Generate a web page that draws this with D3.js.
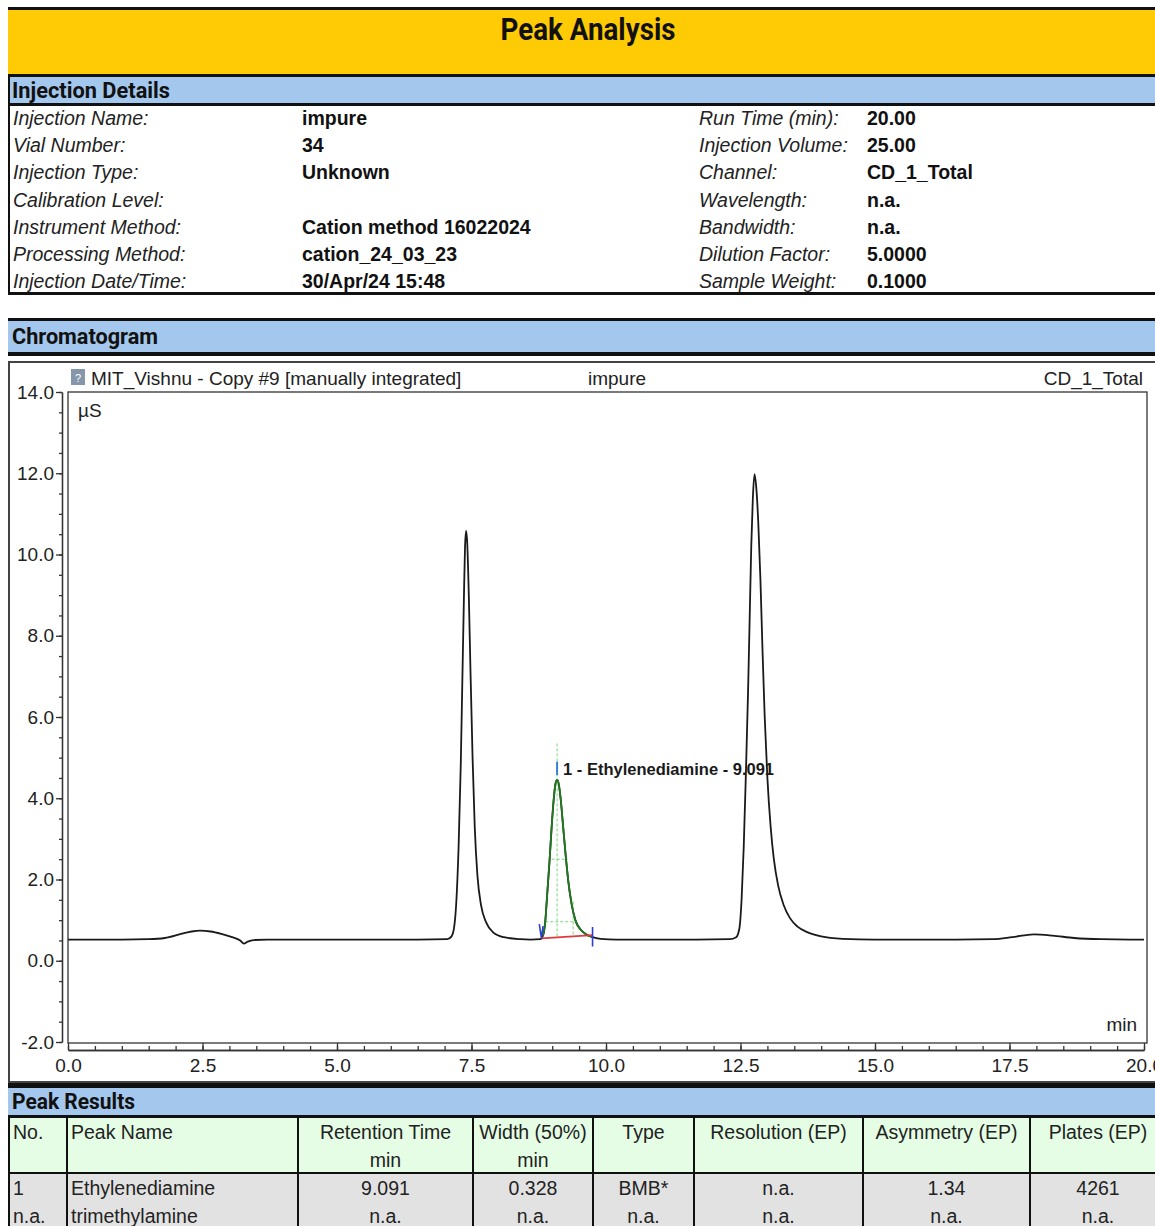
<!DOCTYPE html>
<html>
<head>
<meta charset="utf-8">
<script src="https://cdn.jsdelivr.net/npm/d3@7"></script>
<style>
  body { margin: 0; background: #fff; }
  svg { display: block; font-family: "Liberation Sans", Arial, sans-serif; }
  .band-title { font-family: "Liberation Sans Narrow", "Roboto", sans-serif; font-weight: bold; fill: #111; }
</style>
</head>
<body>
<div id="chart"></div>
<script>
var detailLabelsLeft = ['Injection Name:', 'Vial Number:', 'Injection Type:', 'Calibration Level:',
  'Instrument Method:', 'Processing Method:', 'Injection Date/Time:'];
var detailValuesLeft = ['impure', '34', 'Unknown', '', 'Cation method 16022024', 'cation_24_03_23', '30/Apr/24 15:48'];
var detailLabelsRight = ['Run Time (min):', 'Injection Volume:', 'Channel:', 'Wavelength:',
  'Bandwidth:', 'Dilution Factor:', 'Sample Weight:'];
var detailValuesRight = ['20.00', '25.00', 'CD_1_Total', 'n.a.', 'n.a.', '5.0000', '0.1000'];

// chromatogram trace (min, µS)
var traceTime = [0.00, 0.50, 1.00, 1.50, 1.80, 2.10, 2.30, 2.45, 2.65, 2.85, 3.05, 3.20, 3.27, 3.34, 3.45, 3.70,
  5.00, 6.50, 7.05, 7.13, 7.18, 7.22, 7.26, 7.30, 7.33, 7.36, 7.38, 7.40, 7.42, 7.45, 7.48, 7.52, 7.56, 7.61,
  7.68, 7.77, 7.90, 8.10, 8.40, 8.60, 8.78, 8.83, 8.87, 8.90, 8.95, 8.99, 9.03, 9.06, 9.09, 9.12, 9.16, 9.20,
  9.25, 9.30, 9.36, 9.43, 9.52, 9.62, 9.75, 9.90, 10.20, 11.50, 12.30, 12.42, 12.48, 12.52, 12.56, 12.60, 12.64,
  12.67, 12.70, 12.73, 12.76, 12.79, 12.83, 12.87, 12.91, 12.95, 13.00, 13.06, 13.12, 13.20, 13.30, 13.42,
  13.56, 13.75, 14.00, 14.40, 15.00, 16.50, 17.20, 17.55, 17.95, 18.30, 18.70, 19.20, 20.00];
var traceSignal = [0.52, 0.52, 0.52, 0.53, 0.56, 0.66, 0.72, 0.74, 0.72, 0.66, 0.58, 0.50, 0.42, 0.47, 0.51, 0.52,
  0.52, 0.52, 0.53, 0.60, 0.85, 1.50, 2.80, 4.80, 6.90, 9.00, 10.20, 10.58, 10.30, 9.00, 7.20, 5.00, 3.30, 2.10,
  1.35, 0.95, 0.70, 0.58, 0.53, 0.52, 0.53, 0.62, 0.95, 1.50, 2.45, 3.30, 4.00, 4.35, 4.45, 4.36, 3.95, 3.35,
  2.60, 1.95, 1.40, 1.00, 0.78, 0.66, 0.58, 0.54, 0.52, 0.52, 0.53, 0.58, 0.80, 1.50, 2.80, 4.60, 6.60,
  8.40, 10.20, 11.40, 11.98, 11.70, 10.80, 9.40, 7.60, 6.00, 4.50, 3.30, 2.50, 1.85, 1.38, 1.05,
  0.84, 0.70, 0.60, 0.54, 0.52, 0.52, 0.53, 0.58, 0.65, 0.62, 0.56, 0.53, 0.52];

var yTicks = [-2, 0, 2, 4, 6, 8, 10, 12, 14];
var xTicks = [0, 2.5, 5, 7.5, 10, 12.5, 15, 17.5, 20];

// integrated peak: start, end, apex, baseline ends, width markers
var peakLabel = '1 - Ethylenediamine - 9.091';
var peakStartEnd = [8.80, 9.75];
var peakBaseline = [0.55, 0.63];
var peakApex = [9.091, 4.45];
var peakHalfWidth = [8.99, 9.29, 2.50];
var peakTenPct = [8.87, 9.39, 0.96];

var resultHeads = ['No.', 'Peak Name', 'Retention Time', 'Width (50%)', 'Type', 'Resolution (EP)', 'Asymmetry (EP)', 'Plates (EP)'];
var resultUnits = ['', '', 'min', 'min', '', '', '', ''];
var resultRow1 = ['1', 'Ethylenediamine', '9.091', '0.328', 'BMB*', 'n.a.', '1.34', '4261'];
var resultRow2 = ['n.a.', 'trimethylamine', 'n.a.', 'n.a.', 'n.a.', 'n.a.', 'n.a.', 'n.a.'];

var width = 1155, height = 1226;
var svg = d3.select('#chart').append('svg')
    .attr('width', width)
    .attr('height', height);

function hline(y0, w) {
  svg.append('rect').attr('x', 8).attr('y', y0).attr('width', width).attr('height', w).attr('fill', '#111');
}
function band(y0, h, label, tl) {
  svg.append('rect').attr('x', 8).attr('y', y0).attr('width', width).attr('height', h).attr('fill', '#a4c8ed');
  svg.append('text').attr('class', 'band-title')
      .attr('x', 12).attr('y', y0 + h / 2).attr('dy', '0.36em')
      .style('font-size', '22px')
      .attr('textLength', tl).attr('lengthAdjust', 'spacingAndGlyphs')
      .text(label);
}

// title
hline(7, 3);
svg.append('rect').attr('x', 8).attr('y', 10).attr('width', width).attr('height', 64).attr('fill', '#ffcb05');
svg.append('text').attr('class', 'band-title')
    .attr('x', 588).attr('y', 29).attr('dy', '0.36em')
    .attr('text-anchor', 'middle')
    .style('font-size', '31px')
    .attr('textLength', 175).attr('lengthAdjust', 'spacingAndGlyphs')
    .text('Peak Analysis');

// injection details
hline(74, 3);
band(77, 26, 'Injection Details', 158);
hline(103, 3);
var rowY = d3.scaleLinear().domain([0, 6]).range([118, 281]);
function detailCol(list, x0, bold) {
  svg.append('g').selectAll('text').data(list).enter().append('text')
      .attr('x', x0).attr('y', function(d, i) { return rowY(i); })
      .attr('dy', '0.36em')
      .style('font-size', '19.5px')
      .style('font-style', bold ? 'normal' : 'italic')
      .style('font-weight', bold ? 'bold' : 'normal')
      .attr('fill', bold ? '#111' : '#222')
      .text(function(d) { return d; });
}
detailCol(detailLabelsLeft, 13, false);
detailCol(detailValuesLeft, 302, true);
detailCol(detailLabelsRight, 699, false);
detailCol(detailValuesRight, 867, true);
svg.append('rect').attr('x', 8).attr('y', 74).attr('width', 2).attr('height', 221).attr('fill', '#111');
hline(292, 3);

// chromatogram
hline(318, 3);
band(321, 31, 'Chromatogram', 146);
hline(352, 4);
svg.append('rect').attr('x', 9).attr('y', 362).attr('width', width).attr('height', 720)
    .attr('fill', 'none').attr('stroke', '#444').attr('stroke-width', 2);

var x = d3.scaleLinear().domain([0, 20]).range([68, 1144]);
var y = d3.scaleLinear().domain([-2, 14]).range([1042, 392]);

svg.append('rect').attr('x', 68).attr('y', 392).attr('width', 1079).attr('height', 651)
    .attr('fill', 'none').attr('stroke', '#333').attr('stroke-width', 1.3);

// title row
svg.append('rect').attr('x', 71).attr('y', 369).attr('width', 14).attr('height', 16).attr('fill', '#8797ab');
svg.append('text').attr('x', 78).attr('y', 382).attr('text-anchor', 'middle')
    .style('font-size', '11px').attr('fill', '#fff').text('?');
var titleRow = svg.append('g').style('font-size', '19px').attr('fill', '#222');
titleRow.append('text').attr('x', 91).attr('y', 378).attr('dy', '0.36em').text('MIT_Vishnu - Copy #9 [manually integrated]');
titleRow.append('text').attr('x', 588).attr('y', 378).attr('dy', '0.36em').text(detailValuesLeft[0]);
titleRow.append('text').attr('x', 1143).attr('y', 378).attr('dy', '0.36em').attr('text-anchor', 'end').text(detailValuesRight[2]);
titleRow.append('text').attr('x', 78).attr('y', 410).attr('dy', '0.36em').text('µS');
titleRow.append('text').attr('x', 1137).attr('y', 1024).attr('dy', '0.36em').attr('text-anchor', 'end').text('min');

// axes
var fmt = function(d) { return d.toFixed(1); };
svg.append('g').attr('transform', 'translate(62,0)')
    .call(d3.axisLeft(y).tickValues(yTicks).tickFormat(fmt).tickSize(6).tickSizeOuter(0).tickPadding(2));
svg.append('g').attr('transform', 'translate(62,0)')
    .call(d3.axisLeft(y).tickValues(y.ticks(32)).tickFormat('').tickSize(3).tickSizeOuter(0));
svg.append('g').attr('transform', 'translate(0,1050)')
    .call(d3.axisBottom(x).tickValues(xTicks).tickFormat(fmt).tickSize(-7).tickSizeOuter(0).tickPadding(9));
svg.append('g').attr('transform', 'translate(0,1050)')
    .call(d3.axisBottom(x).tickValues(x.ticks(40)).tickFormat('').tickSize(-4).tickSizeOuter(0));
svg.selectAll('.domain, .tick line').attr('stroke', '#333').attr('stroke-width', 1.3);
svg.selectAll('.tick text').style('font-size', '19px').style('font-family', '"Liberation Sans", Arial, sans-serif').attr('fill', '#222');

// trace
var trace = traceTime.map(function(t, i) { return { t: t, v: traceSignal[i] }; });
var line = d3.line()
    .x(function(d) { return x(d.t); })
    .y(function(d) { return y(d.v); })
    .curve(d3.curveMonotoneX);

svg.append('path')
    .datum(trace)
    .attr('d', line)
    .attr('fill', 'none')
    .attr('stroke', '#1a1a1a')
    .attr('stroke-width', 1.8);

// integrated peak marks
var dash = '3,2';
svg.append('line')
    .attr('x1', x(peakApex[0])).attr('x2', x(peakApex[0]))
    .attr('y1', y(peakApex[1] + 0.9)).attr('y2', y(peakBaseline[0] + 0.05))
    .attr('stroke', '#7bd67b').attr('stroke-width', 1).attr('stroke-dasharray', dash);
[peakHalfWidth, peakTenPct].forEach(function(m) {
  svg.append('line')
      .attr('x1', x(m[0])).attr('x2', x(m[1]))
      .attr('y1', y(m[2])).attr('y2', y(m[2]))
      .attr('stroke', '#7bd67b').attr('stroke-width', 1).attr('stroke-dasharray', dash);
});
svg.append('line')
    .attr('x1', x(peakTenPct[1])).attr('x2', x(peakTenPct[1]))
    .attr('y1', y(peakTenPct[2] + 0.5)).attr('y2', y(peakBaseline[1]))
    .attr('stroke', '#7bd67b').attr('stroke-width', 1).attr('stroke-dasharray', dash);

svg.append('path')
    .datum(trace.filter(function(d) { return d.t >= peakStartEnd[0] && d.t <= peakStartEnd[1]; }))
    .attr('d', line)
    .attr('fill', 'none')
    .attr('stroke', '#1f7a1f')
    .attr('stroke-width', 1.8);

svg.append('line')
    .attr('x1', x(peakStartEnd[0])).attr('x2', x(peakStartEnd[1]))
    .attr('y1', y(peakBaseline[0])).attr('y2', y(peakBaseline[1]))
    .attr('stroke', '#e0393e').attr('stroke-width', 1.6);

svg.append('path')
    .attr('d', 'M' + x(peakStartEnd[0] - 0.04) + ',' + y(peakBaseline[0] + 0.35) +
      'L' + x(peakStartEnd[0]) + ',' + y(peakBaseline[0]) +
      'L' + x(peakStartEnd[0] + 0.03) + ',' + y(peakBaseline[0] + 0.3))
    .attr('fill', 'none').attr('stroke', '#2b3fd0').attr('stroke-width', 1.6);
svg.append('line')
    .attr('x1', x(peakStartEnd[1])).attr('x2', x(peakStartEnd[1]))
    .attr('y1', y(peakBaseline[1] + 0.2)).attr('y2', y(peakBaseline[1] - 0.28))
    .attr('stroke', '#2b3fd0').attr('stroke-width', 1.6);
svg.append('line')
    .attr('x1', x(peakApex[0])).attr('x2', x(peakApex[0]))
    .attr('y1', y(peakApex[1] + 0.45)).attr('y2', y(peakApex[1] + 0.12))
    .attr('stroke', '#3a7fd0').attr('stroke-width', 2);

svg.append('text')
    .attr('x', x(peakApex[0]) + 6).attr('y', y(peakApex[1] + 0.27)).attr('dy', '0.36em')
    .style('font-size', '16.5px').style('font-weight', 'bold').attr('fill', '#1a1a1a')
    .text(peakLabel);

// peak results
hline(1083, 5);
band(1088, 27, 'Peak Results', 123);
hline(1115, 3);

var colEdges = [8, 66, 297, 472, 592, 693, 862, 1029, 1165];
var headTop = 1118, headBottom = 1172, rowBottom = 1230;
svg.append('rect').attr('x', 8).attr('y', headTop).attr('width', width).attr('height', headBottom - headTop).attr('fill', '#e4fde4');
svg.append('rect').attr('x', 8).attr('y', headBottom).attr('width', width).attr('height', rowBottom - headBottom).attr('fill', '#e2e2e2');
svg.append('rect').attr('x', 8).attr('y', headBottom).attr('width', width).attr('height', 2).attr('fill', '#111');
svg.append('g').selectAll('rect').data(colEdges.slice(0, -1)).enter().append('rect')
    .attr('x', function(d) { return d; }).attr('y', headTop)
    .attr('width', 2).attr('height', rowBottom - headTop).attr('fill', '#111');

function cellX(i) {
  return i < 2 ? colEdges[i] + 5 : (colEdges[i] + colEdges[i + 1]) / 2 + 1;
}
function tableRow(list, cy) {
  svg.append('g').selectAll('text').data(list).enter().append('text')
      .attr('x', function(d, i) { return cellX(i); })
      .attr('y', cy).attr('dy', '0.36em')
      .attr('text-anchor', function(d, i) { return i < 2 ? 'start' : 'middle'; })
      .style('font-size', '19.5px').attr('fill', '#222')
      .text(function(d) { return d; });
}
tableRow(resultHeads, 1132);
tableRow(resultUnits, 1160);
tableRow(resultRow1, 1188);
tableRow(resultRow2, 1216);
</script>
</body>
</html>
